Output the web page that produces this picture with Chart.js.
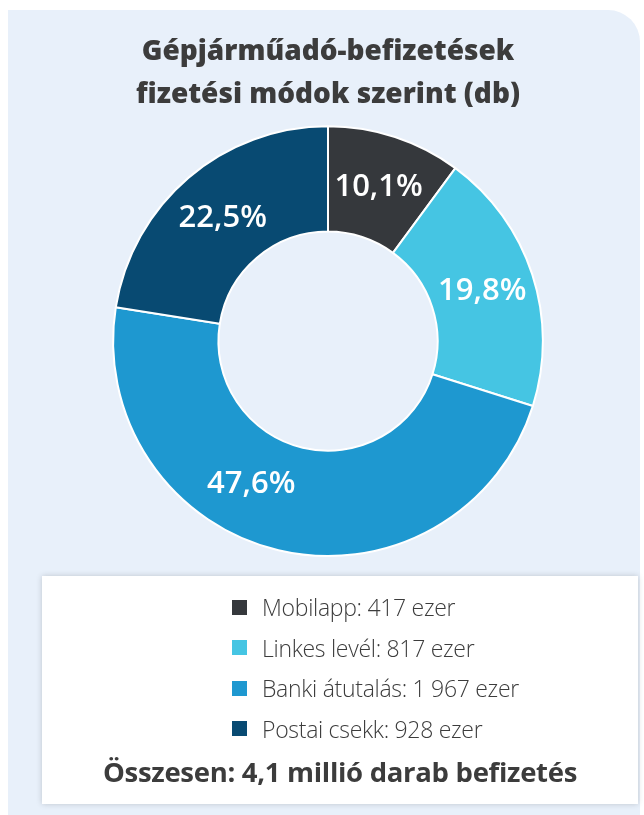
<!DOCTYPE html>
<html>
<head>
<meta charset="utf-8">
<script src="https://cdn.jsdelivr.net/npm/chart.js@4"></script>
<style>
  body { margin: 0; background: #fff; font-family: "Open Sans", sans-serif; }
  #panel { position: absolute; left: 8px; top: 10px; width: 632px; height: 805px;
           background: #e8f0fa; border-top-right-radius: 32px; }
  #wrap { position: absolute; left: 0; top: 0; width: 644px; height: 570px; }
  #legendBox { position: absolute; left: 42px; top: 576px; width: 596px; height: 228px;
               background: #fff; box-shadow: 0 0 6px rgba(0,0,0,0.18); }
  #items { position: absolute; left: 190px; top: 11px; }
  .row { height: 40.5px; display: flex; align-items: center; font-weight: 300;
         font-size: 23px; color: #3c3c3c; letter-spacing: -0.3px; }
  .sq { width: 15px; height: 15px; margin-right: 15px; }
  #total { position: absolute; left: 0; right: 0; top: 177px; text-align: center;
           font-weight: 700; font-size: 27.5px; color: #3c3c3c; letter-spacing: -0.3px; }
</style>
</head>
<body>
<div id="panel"></div>
<div id="wrap"><canvas id="myChart"></canvas></div>
<div id="legendBox">
  <div id="items"></div>
  <div id="total"></div>
</div>
<script>
// data
var labels = ["Mobilapp", "Linkes levél", "Banki átutalás", "Postai csekk"];
var values = [417, 817, 1967, 928]; // ezer db
var pctLabels = ["10,1%", "19,8%", "47,6%", "22,5%"];
var colors = ["#35383c", "#45c5e3", "#1e98d0", "#084a72"];
var titleLines = ["Gépjárműadó-befizetések", "fizetési módok szerint (db)"];
var totalText = "Összesen: 4,1 millió darab befizetés";

// legend html
var items = document.getElementById("items");
for (var i = 0; i < labels.length; i++) {
  var num = values[i].toString().replace(/\B(?=(\d{3})+(?!\d))/g, " ");
  items.innerHTML += '<div class="row"><div class="sq" style="background:' + colors[i] +
    '"></div>' + labels[i] + ': ' + num + ' ezer</div>';
}
document.getElementById("total").textContent = totalText;

// percent labels on the slices
var sliceLabels = {
  id: "sliceLabels",
  afterDatasetsDraw: function(chart, args, opts) {
    var ctx = chart.ctx;
    var meta = chart.getDatasetMeta(0);
    ctx.save();
    ctx.fillStyle = "#fff";
    ctx.font = "600 31px 'Open Sans'";
    ctx.textAlign = "center";
    ctx.textBaseline = "middle";
    meta.data.forEach(function(arc, i) {
      var p = arc.getProps(["x", "y", "startAngle", "endAngle", "innerRadius", "outerRadius"]);
      var a = (p.startAngle + p.endAngle) / 2 + (opts.shift[i] || 0);
      var r = (p.innerRadius + p.outerRadius) / 2;
      ctx.fillText(pctLabels[i], p.x + Math.cos(a) * r, p.y + Math.sin(a) * r);
    });
    ctx.restore();
  }
};

new Chart("myChart", {
  type: "doughnut",
  data: {
    labels: labels,
    datasets: [{
      data: values,
      backgroundColor: colors,
      borderColor: "#fff",
      borderWidth: 2
    }]
  },
  plugins: [sliceLabels],
  options: {
    responsive: true,
    maintainAspectRatio: false,
    animation: false,
    cutout: "51%",
    layout: { padding: { left: 12, bottom: 13 } },
    plugins: {
      legend: { display: false },
      tooltip: { enabled: false },
      title: {
        display: true,
        text: titleLines,
        color: "#3c3c3c",
        font: { family: "Open Sans", size: 28, weight: "800", lineHeight: 1.54 },
        padding: { top: 30, bottom: 9 }
      },
      sliceLabels: { shift: [0, 0, 0.26, 0] }
    }
  }
});
</script>
</body>
</html>
